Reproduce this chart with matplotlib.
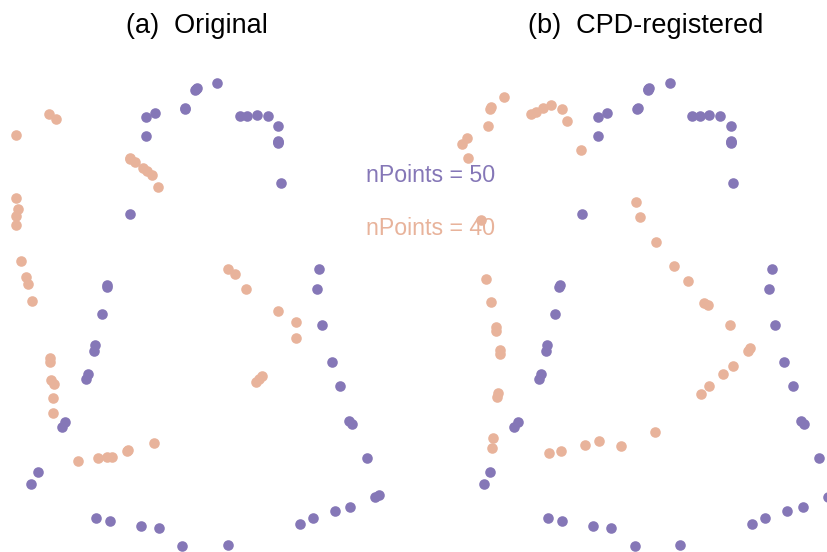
import matplotlib
matplotlib.use("Agg")
import matplotlib.pyplot as plt
import numpy as np

plt.rcParams['font.family'] = ['Liberation Sans', 'DejaVu Sans']

PURPLE = "#8577B7"
ORANGE = "#E8B39B"

# Target point set (nPoints = 50), shared by both panels
target_x = [217.3, 196.7, 195.3, 185.0, 145.7, 154.7, 145.7, 240.0, 247.3, 256.7,
            267.7, 278.3, 278.3, 278.3, 281.0, 129.7, 319.3, 316.7, 107.3, 106.7,
            102.3, 95.0, 93.7, 88.3, 86.3, 65.3, 62.0, 38.0, 31.3, 95.7,
            110.0, 140.7, 159.0, 182.3, 228.0, 299.7, 313.0, 335.0, 350.3, 375.3,
            378.7, 367.0, 348.7, 351.7, 340.3, 331.7, 322.3, 196.0, 185.5, 278.3]
target_y = [82.7, 88.3, 90.3, 108.7, 117.3, 113.0, 135.7, 115.7, 116.3, 115.0,
            116.3, 126.0, 140.5, 142.5, 182.7, 214.0, 269.0, 289.0, 285.3, 286.7,
            314.3, 345.0, 350.7, 374.0, 378.7, 422.3, 427.0, 472.3, 484.0, 517.7,
            521.3, 526.3, 528.0, 545.7, 544.7, 523.7, 518.0, 511.0, 507.3, 496.7,
            494.7, 457.7, 420.7, 424.0, 386.0, 362.0, 325.0, 89.3, 108.2, 141.5]

# Source point set, original (nPoints = 40)
source_x = [49.0, 55.7, 16.3, 130.0, 135.0, 143.3, 147.0, 151.7, 158.0, 16.3,
            18.0, 16.0, 15.7, 21.3, 26.0, 28.0, 32.3, 228.3, 235.3, 245.7,
            277.7, 296.0, 296.0, 49.7, 50.3, 51.0, 53.7, 53.3, 53.3, 78.0,
            98.0, 106.7, 112.3, 128.3, 153.7, 256.0, 259.0, 262.0, 127.5, 130.5]
source_y = [113.7, 119.0, 135.0, 158.0, 162.3, 167.7, 170.7, 175.3, 186.7, 197.7,
            209.0, 216.3, 224.7, 261.0, 277.0, 284.0, 301.3, 268.7, 274.3, 289.3,
            310.7, 321.7, 338.3, 357.7, 362.3, 379.7, 384.3, 398.0, 412.7, 460.7,
            457.7, 457.0, 457.0, 450.3, 442.7, 382.0, 379.2, 376.3, 451.0, 158.5]

# Source point set after CPD registration (panel b coordinates)
reg_x = [51.5, 38.2, 37.5, 35.5, 14.8, 9.8, 15.2, 78.2, 83.5, 90.2,
         98.8, 109.5, 114.5, 128.8, 28.2, 183.8, 187.8, 203.5, 221.8, 235.5,
         251.8, 255.2, 33.8, 38.8, 43.2, 43.8, 47.2, 47.2, 45.2, 44.2,
         40.5, 39.5, 96.5, 108.5, 132.2, 146.5, 168.8, 202.2, 248.2, 256.5,
         270.5, 280.5, 295.5, 297.2, 277.2]
reg_y = [97.0, 106.7, 109.0, 126.0, 138.3, 144.3, 157.7, 114.0, 112.0, 108.0,
         105.3, 109.3, 121.0, 150.3, 220.0, 201.7, 217.0, 241.7, 265.7, 280.7,
         303.0, 304.7, 279.3, 302.0, 327.0, 331.3, 350.0, 353.7, 392.7, 397.0,
         437.7, 448.3, 453.0, 451.0, 445.3, 440.7, 446.3, 431.7, 394.3, 385.7,
         373.7, 366.0, 350.7, 348.3, 325.0]

titles = ["(a)  Original", "(b)  CPD-registered"]
labels = ["nPoints = 50", "nPoints = 40"]

fig = plt.figure(figsize=(8.28, 5.52), dpi=100)
ax1 = fig.add_axes([0.0, 0.0, 0.5, 1.0])
ax2 = fig.add_axes([0.5, 0.0, 0.5, 1.0])

W, H = 828, 552
ms = 58

ax1.scatter(target_x, target_y, s=ms, color=PURPLE, linewidths=0, zorder=2)
ax1.scatter(source_x, source_y, s=ms, color=ORANGE, linewidths=0, zorder=3)
ax1.set_xlim(0, 414)
ax1.set_ylim(H, 0)

ax2.scatter(target_x, target_y, s=ms, color=PURPLE, linewidths=0, zorder=2)
ax2.scatter(reg_x, reg_y, s=ms, color=ORANGE, linewidths=0, zorder=3)
ax2.set_xlim(-38.5, 375.5)
ax2.set_ylim(H, 0)

for ax in (ax1, ax2):
    ax.axis('off')

fig.text(196.5 / W, 1 - 33 / H, titles[0], ha='center', va='baseline',
         fontsize=19.5, color='black')
fig.text(646 / W, 1 - 33 / H, titles[1], ha='center', va='baseline',
         fontsize=19.5, color='black')

fig.text(430.5 / W, 1 - 181.7 / H, labels[0], ha='center', va='baseline',
         fontsize=16.7, color=PURPLE, zorder=1)
fig.text(430.5 / W, 1 - 235 / H, labels[1], ha='center', va='baseline',
         fontsize=16.7, color=ORANGE, zorder=1)

fig.savefig("out.png", dpi=100)
